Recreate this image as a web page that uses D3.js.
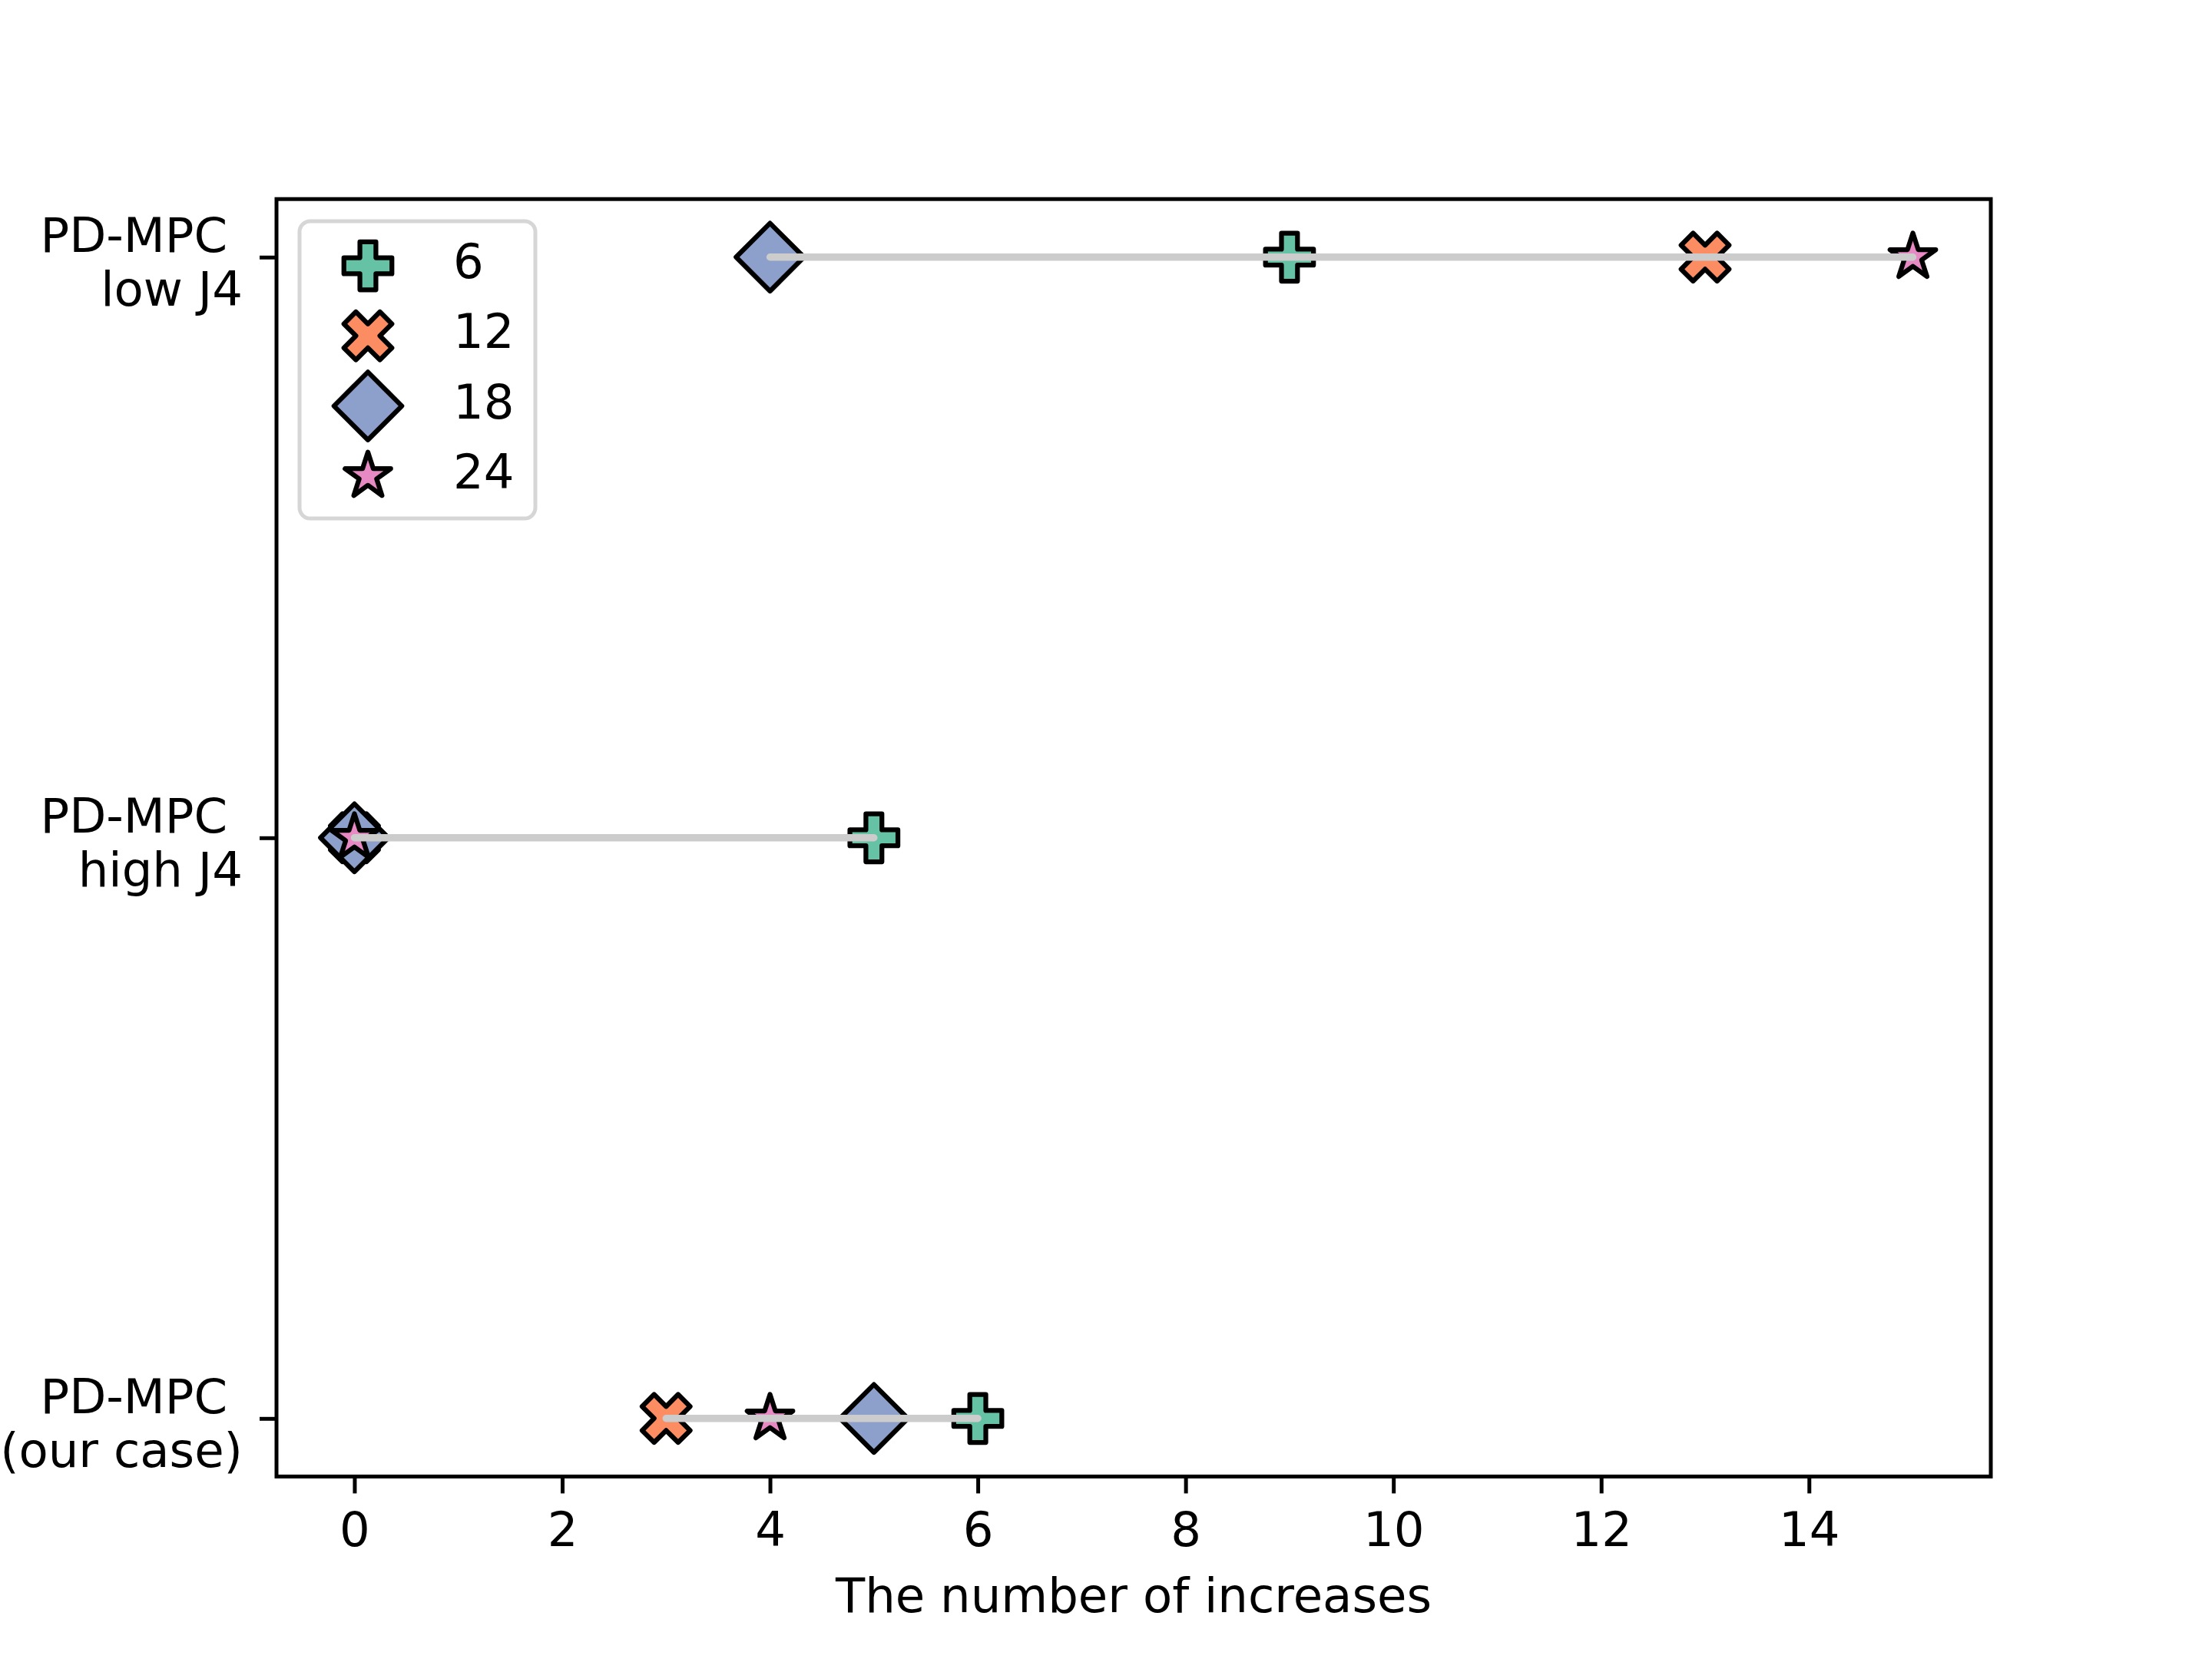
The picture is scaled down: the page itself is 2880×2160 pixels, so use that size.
<!DOCTYPE html>
<html>
<head>
<meta charset="utf-8">
<script src="https://cdn.jsdelivr.net/npm/d3@7"></script>
<style>
  body { margin: 0; background: #ffffff; }
  svg { display: block; }
  text { font-family: "DejaVu Sans", sans-serif; }
</style>
</head>
<body>
<svg id="chart" width="2880" height="2160"></svg>
<script>
// rows from bottom to top, horizons as hue/style
const methods = ["PD-MPC \n(our case)", "PD-MPC \nhigh J4", "PD-MPC \nlow J4"];
const horizons = [6, 12, 18, 24];
const inc6 = [6, 5, 9];
const inc12 = [3, 0, 13];
const inc18 = [5, 0, 4];
const inc24 = [4, 0, 15];
const seriesValues = [inc6, inc12, inc18, inc24];
const xTicks = [0, 2, 4, 6, 8, 10, 12, 14];
const palette = ["#66c2a5", "#fc8d62", "#8da0cb", "#e78ac3"];

const FONT = 62.5;      // 10pt at 450 dpi
const MS = 62.5;        // marker size
const EDGE = 6.25;

const svg = d3.select("#chart");
svg.append("rect").attr("width", 2880).attr("height", 2160).attr("fill", "#ffffff");

const axLeft = 360, axRight = 2592, axTop = 259.2, axBottom = 1922.4;

const x = d3.scaleLinear().domain([-0.75, 15.75]).range([axLeft, axRight]);
const y = d3.scaleLinear().domain([-0.1, 2.1]).range([axBottom, axTop]);

// matplotlib-like marker shapes as custom d3 symbol types (size = marker size)
function polySymbol(points) {
    return {
        draw(context, size) {
            points.forEach(([px, py], i) => {
                if (i === 0) context.moveTo(px * size, py * size);
                else context.lineTo(px * size, py * size);
            });
            context.closePath();
        }
    };
}
const plusPts = [[-1, -3], [1, -3], [1, -1], [3, -1], [3, 1], [1, 1], [1, 3], [-1, 3], [-1, 1], [-3, 1], [-3, -1], [-1, -1]]
    .map(([a, b]) => [a / 6, b / 6]);
const xPts = [[-1, -2], [0, -1], [1, -2], [2, -1], [1, 0], [2, 1], [1, 2], [0, 1], [-1, 2], [-2, 1], [-1, 0], [-2, -1]]
    .map(([a, b]) => [a / 4, b / 4]);
const diamondPts = [[0, -Math.SQRT1_2], [Math.SQRT1_2, 0], [0, Math.SQRT1_2], [-Math.SQRT1_2, 0]];
const starPts = d3.range(10).map(i => {
    const r = i % 2 === 0 ? 0.5 : 0.5 * 0.381966;
    const a = -Math.PI / 2 + i * Math.PI / 5;
    return [r * Math.cos(a), r * Math.sin(a)];
});
const shapes = [polySymbol(plusPts), polySymbol(xPts), polySymbol(diamondPts), polySymbol(starPts)];

function drawMarker(g, cx, cy, k) {
    g.append("path")
        .attr("d", d3.symbol().type(shapes[k]).size(MS)())
        .attr("transform", `translate(${cx},${cy})`)
        .attr("fill", palette[k])
        .attr("stroke", "#000000")
        .attr("stroke-width", EDGE)
        .attr("stroke-linejoin", "round");
}

// markers
const marks = svg.append("g");
methods.forEach((m, row) => {
    horizons.forEach((h, k) => {
        drawMarker(marks, x(seriesValues[k][row]), y(row), k);
    });
});

// range lines, drawn on top of markers
const lines = svg.append("g");
methods.forEach((m, row) => {
    const vals = seriesValues.map(s => s[row]);
    lines.append("line")
        .attr("x1", x(d3.min(vals)))
        .attr("x2", x(d3.max(vals)))
        .attr("y1", y(row))
        .attr("y2", y(row))
        .attr("stroke", "#cccccc")
        .attr("stroke-width", 9.4)
        .attr("stroke-linecap", "round");
});

// x axis
const xAxis = svg.append("g")
    .attr("transform", `translate(0,${axBottom})`)
    .call(d3.axisBottom(x).tickValues(xTicks).tickSize(22).tickPadding(24).tickFormat(d3.format("d")));
xAxis.select(".domain").remove();
xAxis.selectAll(".tick line").attr("stroke", "#000000").attr("stroke-width", 5);
xAxis.selectAll(".tick text")
    .attr("font-family", "DejaVu Sans")
    .attr("font-size", FONT)
    .attr("fill", "#000000");

// y axis with two-line labels
const yAxis = svg.append("g")
    .attr("transform", `translate(${axLeft},0)`)
    .call(d3.axisLeft(y).tickValues(d3.range(methods.length)).tickSize(22).tickFormat(""));
yAxis.select(".domain").remove();
yAxis.selectAll(".tick line").attr("stroke", "#000000").attr("stroke-width", 5);
yAxis.selectAll(".tick").each(function(d) {
    const t = d3.select(this).append("text")
        .attr("x", -44)
        .attr("text-anchor", "end")
        .attr("font-family", "DejaVu Sans")
        .attr("font-size", FONT)
        .attr("fill", "#000000")
        .attr("xml:space", "preserve")
        .style("white-space", "pre");
    methods[d].split("\n").forEach((line, i) => {
        t.append("tspan")
            .attr("x", -44)
            .attr("y", i === 0 ? -7 : 63)
            .text(line);
    });
});

// axes frame
svg.append("rect")
    .attr("x", axLeft)
    .attr("y", axTop)
    .attr("width", axRight - axLeft)
    .attr("height", axBottom - axTop)
    .attr("fill", "none")
    .attr("stroke", "#000000")
    .attr("stroke-width", 5);

// x label
svg.append("text")
    .attr("x", (axLeft + axRight) / 2)
    .attr("y", 2099)
    .attr("text-anchor", "middle")
    .attr("font-size", FONT)
    .attr("fill", "#000000")
    .text("The number of increases");

// legend
const legend = svg.append("g");
legend.append("rect")
    .attr("x", 390)
    .attr("y", 288)
    .attr("width", 307)
    .attr("height", 387)
    .attr("rx", 14)
    .attr("fill", "#ffffff")
    .attr("stroke", "#d6d6d6")
    .attr("stroke-width", 5);
horizons.forEach((h, k) => {
    const base = 362 + k * 91.3;
    drawMarker(legend, 479, base - 16, k);
    legend.append("text")
        .attr("x", 590)
        .attr("y", base)
        .attr("font-size", FONT)
        .attr("fill", "#000000")
        .text(h);
});
</script>
</body>
</html>
